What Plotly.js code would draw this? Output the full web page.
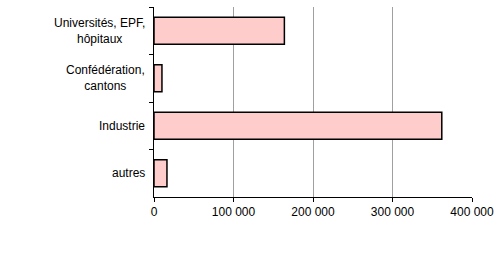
<!DOCTYPE html>
<html>
<head>
<meta charset="utf-8">
<script src="https://cdn.plot.ly/plotly-3.0.1.min.js"></script>
<style>html,body{margin:0;padding:0;background:#fff;}#chart{width:499px;height:268px;}</style>
</head>
<body>
<div id="chart"></div>
<script>
const categories = ["Universités, EPF,<br>hôpitaux", "Confédération,<br>cantons", "Industrie", "autres"];
const values = [164000, 10000, 362000, 16300];
const xTickValues = [0, 100000, 200000, 300000, 400000];

const trace = {
  type: 'bar',
  orientation: 'h',
  y: categories,
  x: values,
  marker: {color: '#ffcccc', line: {color: '#000000', width: 1.5}},
  hoverinfo: 'none'
};

const annotations = categories.map(c => ({
  text: c,
  xref: 'paper', x: 0, xshift: -7, xanchor: 'right',
  yref: 'y', y: c, yanchor: 'middle',
  align: 'center', showarrow: false,
  font: {family: 'Liberation Sans, Arial, sans-serif', size: 12, color: '#000'}
}));

const layout = {
  width: 499, height: 268,
  margin: {l: 154, r: 27, t: 7, b: 71, pad: 0},
  paper_bgcolor: '#fff', plot_bgcolor: '#fff',
  separators: '. ',
  font: {family: 'Liberation Sans, Arial, sans-serif', size: 12, color: '#000'},
  showlegend: false,
  bargap: 0.43,
  xaxis: {
    range: [0, 400000], tickvals: xTickValues, tickformat: ',d',
    showgrid: true, gridcolor: '#a0a0a0', gridwidth: 1,
    showline: true, linecolor: '#000', linewidth: 1,
    ticks: 'outside', ticklen: 4, tickcolor: '#000',
    zeroline: false, fixedrange: true
  },
  yaxis: {
    type: 'category', autorange: 'reversed',
    showticklabels: false, showgrid: false,
    showline: true, linecolor: '#000', linewidth: 1,
    ticks: 'outside', ticklen: 4, tickcolor: '#000', tickson: 'boundaries',
    zeroline: false, fixedrange: true
  },
  annotations: annotations
};

Plotly.newPlot('chart', [trace], layout, {displayModeBar: false, staticPlot: true});
</script>
</body>
</html>
